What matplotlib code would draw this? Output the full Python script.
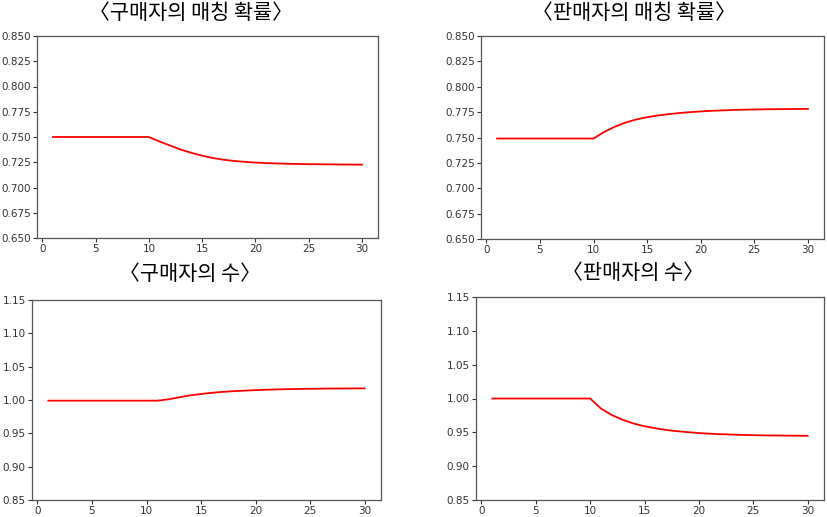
"""Matching probability and number of buyers/sellers after a shock at t=10."""

import matplotlib
matplotlib.use("Agg")
import matplotlib.pyplot as plt

plt.rcParams["font.family"] = ["DejaVu Sans"]

periods = list(range(1, 31))

buyer_match = [0.750] * 10 + [
    0.7455, 0.7415, 0.7375, 0.7343, 0.7315, 0.7292, 0.7275, 0.7263, 0.7254, 0.7247,
    0.7242, 0.7238, 0.7235, 0.7233, 0.7231, 0.7230, 0.7229, 0.7228, 0.7227, 0.7226,
]
seller_match = [0.749] * 10 + [
    0.7555, 0.7607, 0.7648, 0.7678, 0.7700, 0.7717, 0.7730, 0.7741, 0.7750, 0.7757,
    0.7763, 0.7767, 0.7771, 0.7774, 0.7776, 0.7778, 0.7779, 0.7780, 0.7781, 0.7782,
]
buyer_count = [0.999] * 11 + [
    1.0010, 1.0040, 1.0070, 1.0090, 1.0108, 1.0122, 1.0133, 1.0141, 1.0148,
    1.0154, 1.0159, 1.0163, 1.0166, 1.0168, 1.0170, 1.0172, 1.0173, 1.0174, 1.0175,
]
seller_count = [1.000] * 10 + [
    0.9850, 0.9755, 0.9685, 0.9630, 0.9590, 0.9560, 0.9535, 0.9517, 0.9502, 0.9490,
    0.9480, 0.9473, 0.9467, 0.9462, 0.9458, 0.9455, 0.9453, 0.9451, 0.9450, 0.9449,
]

titles = ["〈구매자의 매칭 확률〉", "〈판매자의 매칭 확률〉", "〈구매자의 수〉", "〈판매자의 수〉"]
series = [buyer_match, seller_match, buyer_count, seller_count]
ylims = [(0.65, 0.85), (0.65, 0.85), (0.85, 1.15), (0.85, 1.15)]
yticks = [
    [0.650, 0.675, 0.700, 0.725, 0.750, 0.775, 0.800, 0.825, 0.850],
    [0.650, 0.675, 0.700, 0.725, 0.750, 0.775, 0.800, 0.825, 0.850],
    [0.85, 0.90, 0.95, 1.00, 1.05, 1.10, 1.15],
    [0.85, 0.90, 0.95, 1.00, 1.05, 1.10, 1.15],
]
yfmt = ["{:.3f}", "{:.3f}", "{:.2f}", "{:.2f}"]

W, H = 827, 517
# axes boxes in pixels: left, top, right, bottom
boxes = [(37, 36, 378, 238), (481, 36, 824, 239), (32, 300, 381, 500), (476, 297, 824, 500)]
# title centres in pixels
title_xy = [(191, 13), (634, 13), (190, 274), (633, 273)]

fig = plt.figure(figsize=(W / 100, H / 100), dpi=100)

for i in range(4):
    l, t, r, b = boxes[i]
    ax = fig.add_axes([l / W, 1 - b / H, (r - l) / W, (b - t) / H])
    ax.plot(periods, series[i], color="red", linewidth=1.3)
    ax.set_xlim(-0.5, 31.5)
    ax.set_ylim(*ylims[i])
    ax.set_xticks([0, 5, 10, 15, 20, 25, 30])
    ax.set_yticks(yticks[i])
    ax.set_yticklabels([yfmt[i].format(v) for v in yticks[i]])
    ax.tick_params(labelsize=7.5, colors="#333333", length=3, width=0.8, pad=1.5)
    for s in ax.spines.values():
        s.set_color("#555555")
        s.set_linewidth(0.9)
    tx, ty = title_xy[i]
    fig.text(tx / W, 1 - ty / H, titles[i], ha="center", va="center", fontsize=15,
             family=["Noto Sans CJK KR", "DejaVu Sans"])

fig.savefig("out.png", dpi=100)
